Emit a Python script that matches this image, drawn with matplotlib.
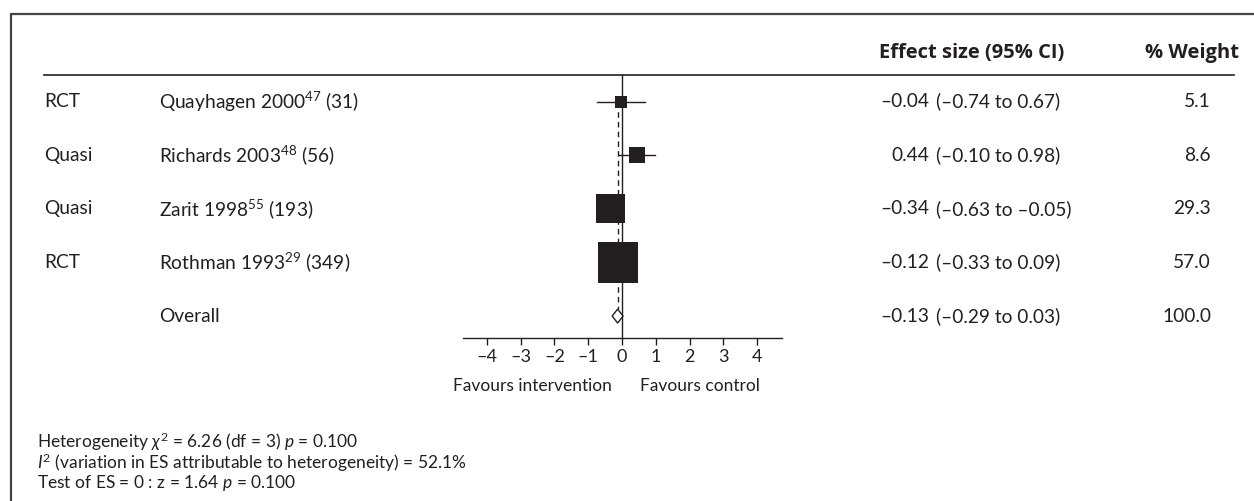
import matplotlib
matplotlib.use("Agg")
import matplotlib.pyplot as plt
import numpy as np
from matplotlib import transforms
from matplotlib.patches import Polygon

plt.rcParams['font.family'] = ['Lato', 'DejaVu Sans']
plt.rcParams['mathtext.fontset'] = 'custom'
plt.rcParams['mathtext.rm'] = 'Lato'
plt.rcParams['mathtext.it'] = 'Lato:italic'
plt.rcParams['mathtext.bf'] = 'Lato:bold'

# ---- data ----
design = ["RCT", "Quasi", "Quasi", "RCT"]
studies = ["Quayhagen 2000", "Richards 2003", "Zarit 1998", "Rothman 1993"]
refs = ["47", "48", "55", "29"]
n_participants = [31, 56, 193, 349]
es = [-0.04, 0.44, -0.34, -0.12]
ci_lo = [-0.74, -0.10, -0.63, -0.33]
ci_hi = [0.67, 0.98, -0.05, 0.09]
weights = [5.1, 8.6, 29.3, 57.0]
overall_label = "Overall"
overall_es = -0.13
overall_lo = -0.29
overall_hi = 0.03
overall_weight = 100.0
xticks = [-4, -3, -2, -1, 0, 1, 2, 3, 4]
footer = [
    r"Heterogeneity $\chi^2$ = 6.26 (df = 3) $p$ = 0.100",
    r"$I^2$ (variation in ES attributable to heterogeneity) = 52.1%",
    r"Test of ES = 0 : z = 1.64 $p$ = 0.100",
]

INK = "#231f20"
FS = 12.5      # axis / footer text
FS_ROW = 13.8  # table rows
FS_HEAD = 14.5
W, H = 1254, 501

def fmt(v):
    s = f"{v:.2f}"
    return s.replace("-", "\u2013")

fig = plt.figure(figsize=(W / 100, H / 100), dpi=100)
bg = fig.add_axes([0, 0, 1, 1])
bg.set_xlim(0, W)
bg.set_ylim(H, 0)
bg.axis("off")

# forest axes
left_px, right_px, top_px, bot_px = 462.7, 782.0, 75.0, 338.0
ax = fig.add_axes([left_px / W, 1 - bot_px / H, (right_px - left_px) / W, (bot_px - top_px) / H])
ax.set_facecolor("none")
ax.set_xlim(-4.71, 4.73)
ax.set_ylim(4.409, -0.498)
for s in ["top", "left", "right"]:
    ax.spines[s].set_visible(False)
ax.spines["bottom"].set_color(INK)
ax.spines["bottom"].set_linewidth(1.0)
ax.set_yticks([])
ax.set_xticks(xticks)
ax.set_xticklabels([fmt(t).replace(".00", "") for t in xticks], fontsize=13, color=INK)
ax.tick_params(axis="x", direction="out", length=5, width=1.0, color=INK, pad=3)

rows = np.arange(len(studies))
overall_row = len(studies)

# zero line & overall dashed line
ax.axvline(0, color=INK, lw=1.0, zorder=1)
ax.plot([overall_es, overall_es], [0, overall_row - 0.13], color=INK, lw=1.0,
        ls=(0, (4, 3)), zorder=1)

# CIs and squares
for r, e, lo, hi in zip(rows, es, ci_lo, ci_hi):
    ax.plot([lo, hi], [r, r], color=INK, lw=1.0, zorder=2)
ax.scatter(es, rows, s=[15.1 * w for w in weights], marker="s", color=INK,
           edgecolors="none", zorder=3)

# diamond
dh = 0.13
ax.add_patch(Polygon([[overall_lo, overall_row], [overall_es, overall_row - dh],
                      [overall_hi, overall_row], [overall_es, overall_row + dh]],
                     closed=True, facecolor="white", edgecolor=INK, lw=1.0, zorder=3))

# favours labels
fav_tr = transforms.blended_transform_factory(ax.transData, ax.transAxes)
fav_y = -(386 - bot_px) / (bot_px - top_px)
ax.text(-0.3, fav_y, "Favours intervention", transform=fav_tr,
        ha="right", va="center", fontsize=FS, color=INK)
ax.text(0.53, fav_y, "Favours control", transform=fav_tr,
        ha="left", va="center", fontsize=FS, color=INK)

# table text
tr = transforms.blended_transform_factory(bg.transData, ax.transData)
for r, d, st, rf, nn, e, lo, hi, w in zip(rows, design, studies, refs, n_participants,
                                          es, ci_lo, ci_hi, weights):
    bg.text(44, r, d, transform=tr, ha="left", va="center", fontsize=FS_ROW, color=INK)
    bg.text(159, r, f"{st}$^{{{rf}}}$ ({nn})", transform=tr, ha="left", va="center",
            fontsize=FS_ROW, color=INK)
    bg.text(929, r, fmt(e), transform=tr, ha="right", va="center", fontsize=FS_ROW, color=INK)
    bg.text(936, r, f"({fmt(lo)} to {fmt(hi)})", transform=tr, ha="left", va="center",
            fontsize=FS_ROW, color=INK)
    bg.text(1211, r, f"{w:.1f}", transform=tr, ha="right", va="center", fontsize=FS_ROW, color=INK)

bg.text(159, overall_row, overall_label, transform=tr, ha="left", va="center", fontsize=FS_ROW, color=INK)
bg.text(929, overall_row, fmt(overall_es), transform=tr, ha="right", va="center", fontsize=FS_ROW, color=INK)
bg.text(936, overall_row, f"({fmt(overall_lo)} to {fmt(overall_hi)})", transform=tr,
        ha="left", va="center", fontsize=FS_ROW, color=INK)
bg.text(1211, overall_row, f"{overall_weight:.1f}", transform=tr, ha="right", va="center",
        fontsize=FS_ROW, color=INK)

# header
bg.text(879, 53, "Effect size (95% CI)", ha="left", va="center", fontsize=FS_HEAD,
        fontweight="bold", color=INK, family=["Open Sans", "DejaVu Sans"])
bg.text(1239, 53, "% Weight", ha="right", va="center", fontsize=FS_HEAD, fontweight="bold",
        color=INK, family=["Open Sans", "DejaVu Sans"])
bg.plot([44, 1234], [75, 75], color=INK, lw=1.2)

# frame
bg.plot([11, 11, W], [H, 14, 14], color="#444444", lw=1.6, solid_joinstyle="miter")

# footer
for i, line in enumerate(footer):
    bg.text(37, 442 + 20.5 * i, line, ha="left", va="center", fontsize=FS, color=INK)

fig.savefig("out.png", dpi=100)
